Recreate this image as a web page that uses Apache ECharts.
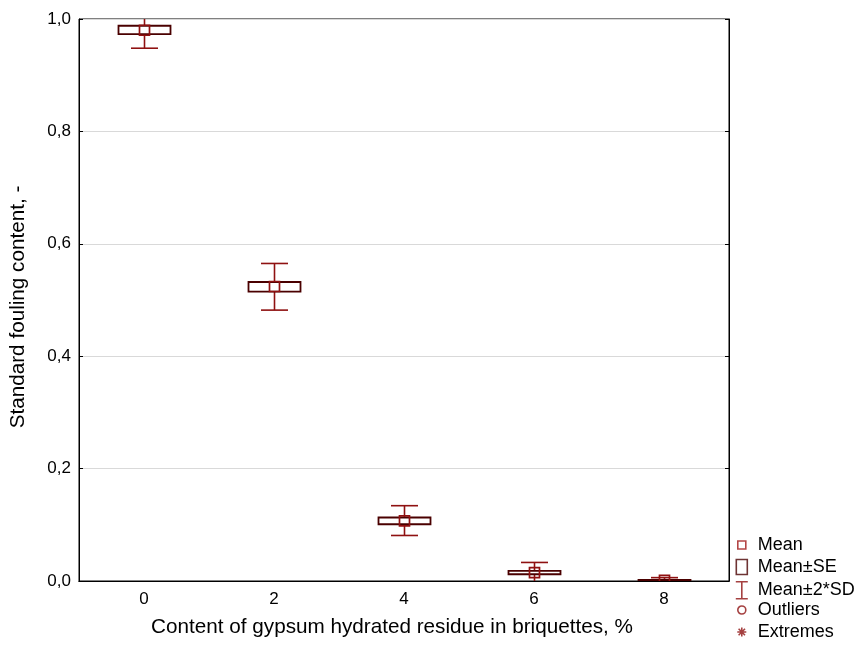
<!DOCTYPE html>
<html>
<head>
<meta charset="utf-8">
<script src="https://cdn.jsdelivr.net/npm/echarts@6/dist/echarts.min.js"></script>
<style>
  html, body { margin: 0; padding: 0; background: #ffffff; }
  #main { width: 858px; height: 648px; }
</style>
</head>
<body>
<div id="main"></div>
<script>
// categories and summary statistics
var categories = ['0', '2', '4', '6', '8'];
var meanVals = [0.980, 0.524, 0.107, 0.015, 0.001];
var seLow    = [0.973, 0.515, 0.101, 0.012, 0.000];
var seHigh   = [0.988, 0.532, 0.113, 0.018, 0.002];
var sdLow    = [0.948, 0.482, 0.081, -0.003, -0.004];
var sdHigh   = [1.012, 0.565, 0.134, 0.033, 0.006];
var yTicks = [0, 0.2, 0.4, 0.6, 0.8, 1.0];

var redC = '#8f1111';
var boxC = '#4a0000';
var fontFam = 'Liberation Sans, Arial, sans-serif';

var boxData = categories.map(function (c, i) {
  return [i, meanVals[i], seLow[i], seHigh[i], sdLow[i], sdHigh[i]];
});

function renderItem(params, api) {
  var cs = params.coordSys;
  var idx = api.value(0);
  var p = api.coord([idx, api.value(1)]);
  var cx = Math.round(p[0]) + 0.5;
  var yMean = p[1];
  var ySeLo = api.coord([idx, api.value(2)])[1];
  var ySeHi = api.coord([idx, api.value(3)])[1];
  var ySdLo = api.coord([idx, api.value(4)])[1];
  var ySdHi = api.coord([idx, api.value(5)])[1];
  var children = [];
  children.push({ type: 'line', shape: { x1: cx, y1: ySdHi, x2: cx, y2: ySdLo },
    style: { stroke: redC, lineWidth: 1.6 } });
  children.push({ type: 'line', shape: { x1: cx - 13.5, y1: ySdHi, x2: cx + 13.5, y2: ySdHi },
    style: { stroke: redC, lineWidth: 1.6 } });
  children.push({ type: 'line', shape: { x1: cx - 13.5, y1: ySdLo, x2: cx + 13.5, y2: ySdLo },
    style: { stroke: redC, lineWidth: 1.6 } });
  children.push({ type: 'rect', shape: { x: cx - 26, y: ySeHi, width: 52, height: ySeLo - ySeHi },
    style: { fill: '#ffffff', stroke: boxC, lineWidth: 1.8 } });
  children.push({ type: 'rect', shape: { x: cx - 5, y: yMean - 5, width: 10, height: 10 },
    style: { fill: 'none', stroke: redC, lineWidth: 1.7 } });
  return {
    type: 'group',
    clipPath: { type: 'rect', shape: { x: cs.x, y: cs.y, width: cs.width, height: cs.height } },
    children: children
  };
}

// one legend block per entry so every icon keeps its own size
function oneLegend(name, icon, w, h, topPx, stroke) {
  var left = 741 - w / 2;
  return {
    data: [{ name: name, icon: icon,
      itemStyle: { color: '#ffffff', borderColor: stroke, borderWidth: 1.6 } }],
    left: left, top: topPx,
    itemWidth: w, itemHeight: h,
    selectedMode: false,
    padding: 0,
    textStyle: { fontFamily: fontFam, fontSize: 18, color: '#000',
      padding: [0, 0, 0, 757 - (left + w + 5)] }
  };
}

var myChart = echarts.init(document.getElementById('main'), null, { renderer: 'canvas' });
var option = {
  backgroundColor: '#ffffff',
  animation: false,
  grid: {
    left: 78, right: 129, top: 19, bottom: 67,
    show: true, borderColor: '#000', borderWidth: 1
  },
  legend: [
    oneLegend('Mean', 'path://M0,0 L8,0 L8,8 L0,8 Z', 8, 8, 536, '#a01818'),
    oneLegend('Mean±SE', 'path://M0,0 L11,0 L11,15 L0,15 Z', 11, 15, 558, boxC),
    oneLegend('Mean±2*SD', 'path://M0,0 L12,0 M6,0 L6,17 M0,17 L12,17', 12, 17, 581, redC),
    oneLegend('Outliers', 'path://M0,4 A4,4 0 1,1 8,4 A4,4 0 1,1 0,4 Z', 8, 8, 601, redC),
    oneLegend('Extremes', 'path://M0,4.5 L9,4.5 M4.5,0 L4.5,9 M1.3,1.3 L7.7,7.7 M7.7,1.3 L1.3,7.7', 9, 9, 623, redC)
  ],
  xAxis: [
    {
      type: 'category',
      data: categories,
      position: 'bottom',
      boundaryGap: true,
      name: 'Content of gypsum hydrated residue in briquettes, %',
      nameLocation: 'middle',
      nameGap: 36,
      nameTextStyle: { fontFamily: fontFam, fontSize: 20.7, color: '#000', padding: [0, 24, 0, 0] },
      axisLine: { lineStyle: { color: '#000', width: 1 } },
      axisTick: { inside: true, alignWithLabel: true, length: 4, lineStyle: { color: '#000' } },
      axisLabel: { fontFamily: fontFam, fontSize: 17, color: '#000', margin: 10 },
      splitLine: { show: false }
    },
    {
      type: 'category',
      data: categories,
      position: 'top',
      boundaryGap: true,
      axisLine: { lineStyle: { color: '#000', width: 1 } },
      axisTick: { inside: true, alignWithLabel: true, length: 4, lineStyle: { color: '#000' } },
      axisLabel: { show: false },
      splitLine: { show: false }
    }
  ],
  yAxis: [
    {
      type: 'value',
      position: 'left',
      min: yTicks[0],
      max: yTicks[yTicks.length - 1],
      interval: 0.2,
      name: 'Standard fouling content, -',
      nameLocation: 'middle',
      nameGap: 50,
      nameTextStyle: { fontFamily: fontFam, fontSize: 20.7, color: '#000', padding: [0, 14, 0, 0] },
      axisLine: { show: true, lineStyle: { color: '#000', width: 1 } },
      axisTick: { show: true, inside: true, length: 4, lineStyle: { color: '#000' } },
      axisLabel: {
        fontFamily: fontFam, fontSize: 17, color: '#000', margin: 8,
        formatter: function (v) { return v.toFixed(1).replace('.', ','); }
      },
      splitLine: { show: true, lineStyle: { color: '#d9d9d9', width: 1 } }
    },
    {
      type: 'value',
      position: 'right',
      min: yTicks[0],
      max: yTicks[yTicks.length - 1],
      interval: 0.2,
      axisLine: { show: true, lineStyle: { color: '#000', width: 1 } },
      axisTick: { show: true, inside: true, length: 4, lineStyle: { color: '#000' } },
      axisLabel: { show: false },
      splitLine: { show: false }
    }
  ],
  series: [
    {
      type: 'custom',
      renderItem: renderItem,
      data: boxData,
      encode: { x: 0, y: [1, 2, 3, 4, 5] },
      z: 5
    },
    { name: 'Mean', type: 'scatter', data: [] },
    { name: 'Mean±SE', type: 'scatter', data: [] },
    { name: 'Mean±2*SD', type: 'scatter', data: [] },
    { name: 'Outliers', type: 'scatter', data: [] },
    { name: 'Extremes', type: 'scatter', data: [] }
  ]
};
myChart.setOption(option);
</script>
</body>
</html>
